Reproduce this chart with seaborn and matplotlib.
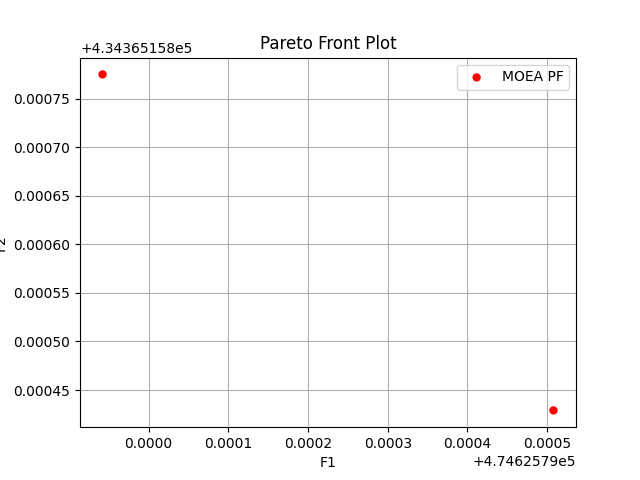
import seaborn as sns
import matplotlib.pyplot as plt
import pandas as pd

f1 = [474625.7899421, 474625.790508]
f2 = [434365.158775, 434365.158429]

df = pd.DataFrame({'F1': f1, 'F2': f2})

fig, ax = plt.subplots(figsize=(6.4, 4.8), dpi=100)
sns.scatterplot(data=df, x='F1', y='F2', ax=ax, color='red', s=36,
                edgecolor='none', label='MOEA PF')
ax.set_title('Pareto Front Plot')
ax.set_xlabel('F1')
ax.set_ylabel('F2')
ax.grid(True)
ax.legend(loc='upper right')
fig.savefig('out.png')
